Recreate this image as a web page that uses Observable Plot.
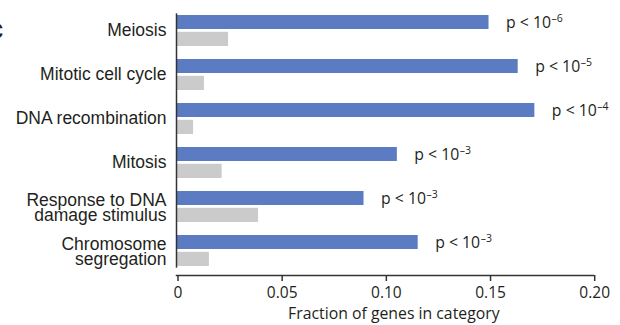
<!DOCTYPE html>
<html><head><meta charset="utf-8">
<script src="https://cdn.jsdelivr.net/npm/d3@7"></script>
<script src="https://cdn.jsdelivr.net/npm/@observablehq/plot@0.6"></script>
<style>
html,body{margin:0;padding:0;background:#fff;}
#chart{position:relative;width:620px;height:325px;overflow:hidden;}
</style></head><body><div id="chart"></div>
<script>
const categories = ["Meiosis", "Mitotic cell cycle", "DNA recombination", "Mitosis", "Response to DNA\ndamage stimulus", "Chromosome\nsegregation"];
const geneFractions = [0.150, 0.164, 0.172, 0.106, 0.090, 0.116];
const backgroundFractions = [0.025, 0.0134, 0.0082, 0.0219, 0.0394, 0.0158];
const pPrefix = "p < 10";
const pExponents = ["–6", "–5", "–4", "–3", "–3", "–3"];
const xTicks = [0, 0.05, 0.10, 0.15, 0.20];
const xTickLabels = ["0", "0.05", "0.10", "0.15", "0.20"];
const xLabel = "Fraction of genes in category";
const panelLetter = "c";

const rows = categories.map((c, i) => ({category: c, gene: geneFractions[i], bg: backgroundFractions[i], exp: pExponents[i]}));
const humanist = "'Open Sans', 'Noto Sans', sans-serif";
const singleLine = categories.filter(c => !c.includes("\n"));
const multiLine = categories.filter(c => c.includes("\n"));

const plot = Plot.plot({
  width: 620, height: 325,
  marginLeft: 176, marginRight: 27.3, marginTop: 13.3, marginBottom: 50,
  style: {fontFamily: "'Liberation Sans', Arial, sans-serif", color: "#231f20", background: "#fff", overflow: "visible"},
  x: {domain: [0, 0.2]},
  y: {domain: categories, paddingInner: 0.296, paddingOuter: 0, insetBottom: 7.3},
  marks: [
    Plot.barX(rows, {x: "bg", y: "category", fill: "#cbcbcb", insetTop: 16.8}),
    Plot.barX(rows, {x: "gene", y: "category", fill: "#5b7bc2", insetBottom: 17}),
    Plot.ruleX([0], {stroke: "#333", strokeWidth: 1.5, insetBottom: 7.3}),
    Plot.frame({anchor: "bottom", stroke: "#333", strokeWidth: 1.5}),
    Plot.axisX({ticks: xTicks, tickFormat: d => xTickLabels[xTicks.indexOf(d)], tickSize: 6, tickPadding: 5, fontSize: 15.5, fontFamily: humanist, label: null, stroke: "#333", strokeWidth: 1.5, dx: 1.5}),
    Plot.axisY({ticks: singleLine, tickSize: 0, tickPadding: 10, fontSize: 17.5, label: null, dy: -1}),
    Plot.axisY({ticks: multiLine, tickSize: 0, tickPadding: 10, fontSize: 17.5, label: null, lineHeight: 0.88, dy: 1.5}),
    Plot.text(rows, {x: "gene", y: "category", text: d => pPrefix, dx: 17, dy: -8.5, textAnchor: "start", fontSize: 15.8, fontFamily: humanist}),
    Plot.text([xLabel], {frameAnchor: "bottom", dx: 9, dy: 43, lineAnchor: "bottom", fontSize: 15.8, fontFamily: humanist}),
    Plot.text([panelLetter], {frameAnchor: "top-left", dx: -173, dy: 25.2, lineAnchor: "bottom", textAnchor: "end", fontSize: 30, fontWeight: "bold"})
  ]
});
document.getElementById("chart").appendChild(plot);

// add superscript exponents to the p-value labels
const pTexts = Array.from(plot.querySelectorAll("text")).filter(t => t.textContent === pPrefix);
pTexts.forEach((t, i) => {
  const ts = document.createElementNS("http://www.w3.org/2000/svg", "tspan");
  ts.setAttribute("dy", "-5.5");
  ts.setAttribute("dx", "0.5");
  ts.setAttribute("font-size", "10.5");
  ts.textContent = pExponents[i];
  t.appendChild(ts);
});
</script>
</body></html>
